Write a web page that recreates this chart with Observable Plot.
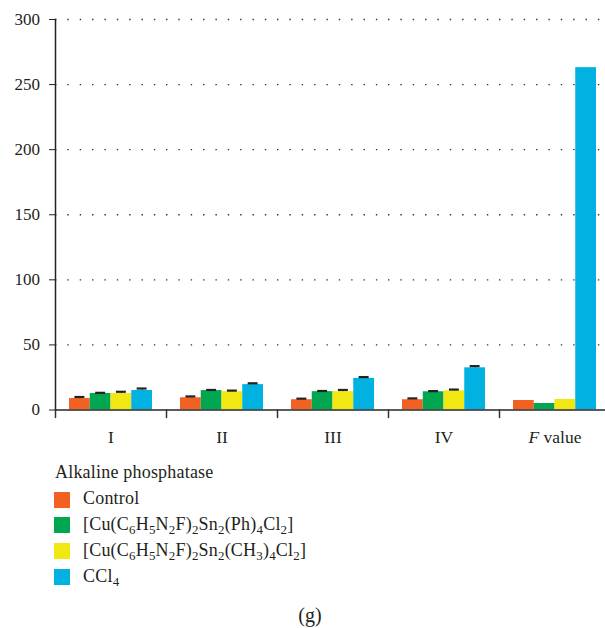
<!DOCTYPE html>
<html>
<head>
<meta charset="utf-8">
<script src="https://cdn.jsdelivr.net/npm/d3@7"></script>
<script src="https://cdn.jsdelivr.net/npm/@observablehq/plot@0.6"></script>
<style>
  html, body { margin: 0; padding: 0; background: #fff; }
  #fig { position: relative; width: 605px; height: 628px; overflow: hidden;
         font-family: "Liberation Serif", "DejaVu Serif", serif; color: #231f20; }
  #chart { position: absolute; left: 0; top: 0; }
  .legend-title { position: absolute; left: 55px; top: 462.6px; font-size: 18px; line-height: 1; letter-spacing: 0.2px; white-space: nowrap; }
  .legend-row { position: absolute; left: 54px; height: 16px; display: flex; align-items: center; white-space: nowrap; }
  .legend-row .sw { width: 16px; height: 16px; margin-right: 13px; flex: none; }
  .legend-row .lbl { font-size: 18px; line-height: 16px; letter-spacing: 0.2px; position: relative; top: -1.5px; }
  .legend-row sub { font-size: 0.72em; vertical-align: -0.3em; line-height: 0; }
  .caption { position: absolute; left: 0; width: 620px; text-align: center; top: 605.3px; font-size: 20px; line-height: 1; }
</style>
</head>
<body>
<div id="fig">
  <div id="chart"></div>
</div>
<script>
// Alkaline phosphatase by treatment group
const groups = ["I", "II", "III", "IV", "F value"];
const series = [
  "Control",
  "[Cu(C6H5N2F)2Sn2(Ph)4Cl2]",
  "[Cu(C6H5N2F)2Sn2(CH3)4Cl2]",
  "CCl4"
];
const colors = ["#F26122", "#00A650", "#F1E813", "#00B1E1"];

// mean values per group (I, II, III, IV, F value)
const control = [8.8, 9.4, 7.9, 7.9, 7.3];
const cuPh    = [12.7, 14.9, 14.1, 14.0, 5.0];
const cuMe    = [12.7, 14.1, 14.1, 14.7, 8.1];
const ccl4    = [15.0, 19.5, 24.3, 32.4, 263];

// standard deviations (none for the F value group)
const controlErr = [1.2, 1.0, 0.8, 1.0, null];
const cuPhErr    = [0.5, 0.5, 0.5, 0.5, null];
const cuMeErr    = [1.3, 0.8, 1.3, 1.0, null];
const ccl4Err    = [1.5, 1.0, 1.0, 1.3, null];

const yTicks = [0, 50, 100, 150, 200, 250, 300];

const means = [control, cuPh, cuMe, ccl4];
const errs = [controlErr, cuPhErr, cuMeErr, ccl4Err];
const rows = series.flatMap((s, si) =>
  groups.map((g, gi) => ({group: g, series: s, value: means[si][gi], err: errs[si][gi]}))
);
const withErr = rows.filter(d => d.err != null);

// short downward stroke used for the category separators on the x axis
const tickShape = {
  draw(context, l) { context.moveTo(0, 0); context.lineTo(0, -l); }
};

const chart = Plot.plot({
  width: 605,
  height: 455,
  marginLeft: 54,
  marginRight: 0,
  marginTop: 19,
  marginBottom: 45.5,
  style: {fontFamily: "'Liberation Serif', 'DejaVu Serif', serif", background: "transparent", color: "#231f20", overflow: "visible"},
  fx: {domain: groups, range: [54, 610], padding: 0, label: null, axis: null},
  x: {domain: series, paddingInner: 0, paddingOuter: 0.675, round: false, axis: null},
  y: {domain: [0, 300], axis: null},
  color: {domain: series, range: colors},
  marks: [
    Plot.ruleY(yTicks.filter(t => t > 0), {stroke: "#333", strokeWidth: 1.4, strokeDasharray: "1.4 10.96", strokeDashoffset: -12.36}),
    Plot.barY(rows, {fx: "group", x: "series", y: "value", fill: "series"}),
    Plot.ruleX(withErr, {fx: "group", x: "series", y1: "value", y2: d => d.value + d.err, stroke: "#222"}),
    Plot.tickY(withErr, {fx: "group", x: "series", y: d => d.value + d.err, stroke: "#222", strokeWidth: 2.2, insetLeft: 5.4, insetRight: 5.4}),
    Plot.ruleY([0], {stroke: "#333", strokeWidth: 2, strokeOpacity: 0.8}),
    Plot.frame({anchor: "left", facet: "super", stroke: "#222", strokeWidth: 1.5}),
    Plot.vector(groups, {fx: d => d, frameAnchor: "bottom-left", length: 7.5, rotate: 180, anchor: "start", shape: tickShape, stroke: "#333", strokeWidth: 1.5}),
    Plot.axisY({ticks: yTicks, tickSize: 6, tickPadding: 9.5, fontSize: 17, stroke: "#222", label: null}),
    Plot.axisFx({anchor: "bottom", tickSize: 0, tickPadding: 21, fontSize: 17.5, label: null})
  ]
});

// italic F in "F value"
chart.querySelectorAll("text").forEach(t => {
  if (t.textContent === "F value") {
    t.innerHTML = '<tspan font-style="italic">F</tspan> value';
  }
});

const fig = document.getElementById("fig");
document.getElementById("chart").appendChild(chart);

// legend
const withSubs = s => s.replace(/([A-Za-z)])(\d+)/g, "$1<sub>$2</sub>");
const title = document.createElement("div");
title.className = "legend-title";
title.textContent = "Alkaline phosphatase";
fig.appendChild(title);
series.forEach((s, i) => {
  const row = document.createElement("div");
  row.className = "legend-row";
  row.style.top = (491.5 + i * 25.9) + "px";
  row.innerHTML = `<span class="sw" style="background:${colors[i]}"></span><span class="lbl">${withSubs(s)}</span>`;
  fig.appendChild(row);
});

const cap = document.createElement("div");
cap.className = "caption";
cap.textContent = "(g)";
fig.appendChild(cap);
</script>
</body>
</html>
